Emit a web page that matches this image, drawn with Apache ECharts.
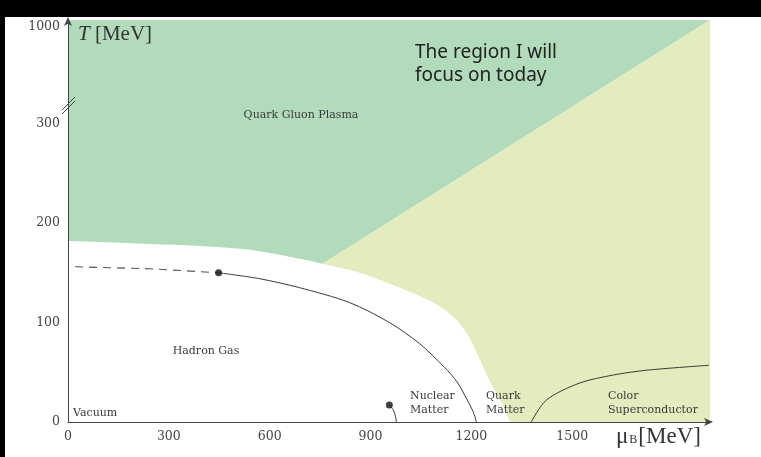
<!DOCTYPE html>
<html>
<head>
<meta charset="utf-8">
<script src="https://cdn.jsdelivr.net/npm/echarts@6/dist/echarts.min.js"></script>
<style>
  html, body { margin: 0; padding: 0; background: #fff; }
  #chart { width: 761px; height: 457px; }
</style>
</head>
<body>
<div id="chart"></div>
<script>
// QCD phase diagram: temperature T versus baryon chemical potential muB (both in MeV)

// Tick labels
const muTicks = [0, 300, 600, 900, 1200, 1500];
const tTicks = [0, 100, 200, 300, 1000];

// Upper edge of the white (hadronic / nuclear) band, [muB, T]
const hadronEdge = [[0, 182], [95, 181], [244, 179], [392, 177], [541, 173], [659, 166], [757, 159],
  [867, 150], [956, 139], [1075, 122], [1145, 106], [1190, 87], [1222, 65], [1261, 37], [1294, 17], [1315, 0]];
// Point where the quark gluon plasma meets the quark matter wedge, and the far corner
const wedgeStart = [757, 159];
const wedgeEnd = [1910, 1050];
// Outer limits of the drawn plane
const muMax = 1910;
const tTop = 1050;

// Crossover (dashed) and first-order transition line ending at the critical point
const crossover = [[21, 156], [244, 154], [448, 150]];
const firstOrder = [[448, 150], [570, 144], [689, 135], [838, 120], [956, 100], [1045, 79],
  [1120, 55], [1158, 40], [1188, 22], [1206, 10], [1215, 0]];
// Liquid-gas line of nuclear matter
const nuclearLine = [[956, 17], [968, 12], [974, 6], [977, 0]];
// Color superconductor boundary
const cscLine = [[1378, 0], [1423, 22], [1521, 39], [1619, 47], [1720, 52], [1907, 57]];
// Critical end points
const endPoints = [[448, 150], [956, 17]];

// Broken temperature axis: linear to 300 MeV, compressed above it
const BREAK = 300;
const SQUEEZE = 97 / 700;
function toAxis(t) { return t <= BREAK ? t : BREAK + (t - BREAK) * SQUEEZE; }
function fromAxis(v) { return v <= BREAK ? v : BREAK + (v - BREAK) / SQUEEZE; }
const mapPts = pts => pts.map(p => [p[0], toAxis(p[1])]);

// Quark gluon plasma lies above the diagonal, quark matter below it;
// the white hadronic band is painted over the lower part of both.
const qgpRegion = [[0, 0], [wedgeStart[0], 0], wedgeStart, wedgeEnd, [0, tTop]];
const quarkRegion = [[wedgeStart[0], 0], [muMax, 0], wedgeEnd, wedgeStart];

function polygonSeries(pts, fill) {
  const data = mapPts(pts);
  return {
    type: 'custom',
    silent: true,
    z: 1,
    data: data,
    renderItem: function (params, api) {
      if (params.dataIndex !== 0) return null;
      return {
        type: 'polygon',
        shape: { points: data.map(d => api.coord(d)) },
        style: { fill: fill }
      };
    }
  };
}

function lineSeries(pts, opts) {
  return Object.assign({
    type: 'line',
    data: mapPts(pts),
    showSymbol: false,
    silent: true,
    z: 3,
    smooth: 0.3,
    lineStyle: { color: '#3a3a3a', width: 1 }
  }, opts || {});
}

const axisColor = '#444';
const serif = '"DejaVu Serif", serif';
const textSerif = '"Liberation Serif", serif';
const labelColor = '#3a3a3a';

const chart = echarts.init(document.getElementById('chart'), null, { renderer: 'canvas' });

function txt(text, x, y, opts) {
  return {
    type: 'text', x: x, y: y, z: 50, silent: true,
    style: Object.assign({
      text: text, font: '11px ' + serif, fill: labelColor,
      align: 'left', verticalAlign: 'middle'
    }, opts || {})
  };
}

chart.setOption({
  backgroundColor: '#ffffff',
  animation: false,
  grid: { left: 68, right: 51, top: 20, bottom: 35 },
  xAxis: {
    type: 'value', min: 0, max: muMax, z: 10,
    axisLine: { show: true, lineStyle: { color: axisColor, width: 1 },
      symbol: ['none', 'arrow'], symbolSize: [6, 9], symbolOffset: [0, 3] },
    axisTick: { show: false },
    splitLine: { show: false },
    axisLabel: {
      customValues: muTicks, margin: 8, color: '#444',
      fontFamily: '"DejaVu Serif", serif', fontSize: 12.5,
      formatter: v => String(v)
    }
  },
  yAxis: {
    type: 'value', min: 0, max: 404, z: 10,
    axisLine: { show: true, lineStyle: { color: axisColor, width: 1 },
      symbol: ['none', 'arrow'], symbolSize: [6, 9], symbolOffset: [0, 3] },
    axisTick: { show: false },
    splitLine: { show: false },
    axisLabel: {
      customValues: tTicks.map(toAxis), margin: 8, color: '#444',
      fontFamily: '"DejaVu Serif", serif', fontSize: 12.5,
      formatter: v => String(Math.round(fromAxis(v)))
    }
  },
  series: [
    polygonSeries(qgpRegion, '#b1dbbb'),
    polygonSeries(quarkRegion, '#e2ecbe'),
    // white hadronic band under its curved upper edge
    {
      type: 'line', data: mapPts(hadronEdge), showSymbol: false, silent: true,
      smooth: 0.35, z: 2,
      lineStyle: { width: 0 },
      areaStyle: { color: '#ffffff', opacity: 1, origin: 'start' }
    },
    lineSeries(crossover, { smooth: false, lineStyle: { color: '#555', width: 1.1, type: [8, 6] } }),
    lineSeries(firstOrder),
    lineSeries(nuclearLine),
    lineSeries(cscLine),
    {
      type: 'scatter', data: mapPts(endPoints), symbolSize: 7, z: 4, silent: true,
      itemStyle: { color: '#111' }
    }
  ],
  graphic: [
    // axis titles
    {
      type: 'text', x: 78, y: 34, z: 50, silent: true,
      style: {
        text: '{i|T} [MeV]', fill: '#333', verticalAlign: 'middle',
        font: '21px ' + textSerif,
        rich: { i: { fontStyle: 'italic', font: 'italic 21px ' + textSerif, fill: '#333' } }
      }
    },
    {
      type: 'text', x: 616, y: 437, z: 50, silent: true,
      style: {
        text: '{m|μ}{b|B}{m|[MeV]}', fill: '#333', verticalAlign: 'middle',
        rich: {
          m: { font: '23px ' + textSerif, fill: '#333', height: 26 },
          b: { font: '12px ' + textSerif, fill: '#333', height: 20, verticalAlign: 'bottom', padding: [0, 1, 0, 1] }
        }
      }
    },
    // region names
    txt('Quark Gluon Plasma', 301, 115, { align: 'center' }),
    txt('Hadron Gas', 206, 351, { align: 'center' }),
    txt('Vacuum', 73, 413),
    txt('Nuclear', 410, 396), txt('Matter', 410, 410),
    txt('Quark', 486, 396), txt('Matter', 486, 410),
    txt('Color', 608, 396), txt('Superconductor', 608, 410),
    // note
    txt('The region I will', 415, 53, { font: '19px "Noto Sans", sans-serif', fill: '#222' }),
    txt('focus on today', 415, 76, { font: '19px "Noto Sans", sans-serif', fill: '#222' }),
    // axis break marks on the temperature axis
    { type: 'line', z: 60, silent: true, shape: { x1: 62, y1: 110, x2: 75, y2: 97 },
      style: { stroke: '#444', lineWidth: 1 } },
    { type: 'line', z: 60, silent: true, shape: { x1: 62, y1: 114, x2: 75, y2: 101 },
      style: { stroke: '#444', lineWidth: 1 } },
    // dark frame bands
    { type: 'rect', z: 100, silent: true, shape: { x: 0, y: 0, width: 761, height: 17 }, style: { fill: '#000' } },
    { type: 'rect', z: 100, silent: true, shape: { x: 0, y: 0, width: 5, height: 457 }, style: { fill: '#000' } }
  ]
});
</script>
</body>
</html>
